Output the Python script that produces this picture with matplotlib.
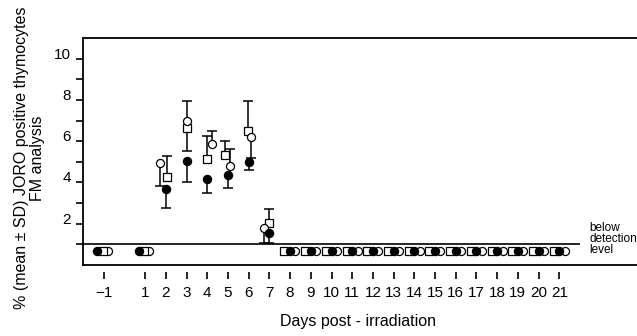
import numpy as np
import matplotlib
matplotlib.use('Agg')
import matplotlib.pyplot as plt

plt.rcParams['font.family'] = ['Liberation Sans', 'DejaVu Sans']

# days with detectable values (mean, and ends of the SD bars)
days = [2, 3, 4, 5, 6, 7]
closed_mean = [3.66, 5.06, 4.16, 4.34, 5.01, 1.55]
closed_low = [2.78, 4.01, 3.49, 3.74, 4.61, 1.05]
closed_high = [3.66, 5.06, 4.16, 4.34, 5.01, 1.55]
circle_mean = [4.95, 6.99, 5.86, 4.82, 6.18, 1.80]
circle_low = [3.85, 6.99, 5.86, 4.82, 5.19, 1.05]
circle_high = [4.95, 7.95, 6.47, 5.62, 6.18, 1.80]
square_mean = [4.26, 6.63, 5.16, 5.35, 6.47, 2.04]
square_low = [4.26, 5.51, 5.16, 5.35, 6.47, 2.04]
square_high = [5.27, 6.63, 6.27, 6.02, 7.95, 2.73]

# small horizontal shifts so the symbols do not overlap
closed_shift = [0, 0, 0, 0, 0, 0]
circle_shift = [-0.29, 0.0, 0.22, 0.12, 0.10, -0.24]
square_shift = [0.05, 0.0, -0.02, -0.13, -0.05, 0.0]

# days below detection level
days_early = [-1, 1]
days_late = list(range(8, 22))
below_value = 0.67
detection_level = 1.0

xtick_pos = [-1] + list(range(1, 22))
xtick_labels = ['\u22121'] + [str(d) for d in range(1, 22)]

fig = plt.figure(figsize=(6.37, 3.36), dpi=100)
ax = fig.add_axes([83 / 637, 71 / 336, 497 / 637, 227 / 336])
ax.set_xlim(-2, 22)
ax.set_ylim(0, 11)


def draw_bars(x, mean, low, high):
    x, mean, low, high = map(np.asarray, (x, mean, low, high))
    ax.vlines(x, low, high, color='black', lw=1.1, zorder=2)
    m = low < mean
    ax.plot(x[m], low[m], ls='none', marker='_', ms=7, mew=1.1, color='black', zorder=2)
    m = high > mean
    ax.plot(x[m], high[m], ls='none', marker='_', ms=7, mew=1.1, color='black', zorder=2)


d = np.array(days)
draw_bars(d + closed_shift, closed_mean, closed_low, closed_high)
draw_bars(d + circle_shift, circle_mean, circle_low, circle_high)
draw_bars(d + square_shift, square_mean, square_low, square_high)

closed_style = dict(ls='none', marker='o', ms=5.8, mfc='black', mec='black', zorder=3)
circle_style = dict(ls='none', marker='o', ms=5.8, mfc='white', mec='black', mew=0.9, zorder=3)
square_style = dict(ls='none', marker='s', ms=5.2, mfc='white', mec='black', mew=0.9, zorder=3)

ax.plot(d + square_shift, square_mean, **square_style)
ax.plot(d + circle_shift, circle_mean, **circle_style)
ax.plot(d + closed_shift, closed_mean, **closed_style)

# below detection level
e = np.array(days_early)
ax.plot(e + 0.2, [below_value] * len(e), **circle_style)
ax.plot(e - 0.05, [below_value] * len(e), **square_style)
ax.plot(e - 0.3, [below_value] * len(e), **closed_style)
la = np.array(days_late)
ax.plot(la + 0.26, [below_value] * len(la), **circle_style)
ax.plot(la - 0.27, [below_value] * len(la), **square_style)
ax.plot(la, [below_value] * len(la), **closed_style)

ax.axhline(detection_level, color='black', lw=1.2, zorder=1)

# frame
for s in ['top', 'right']:
    ax.spines[s].set_visible(False)
ax.spines['left'].set_linewidth(1.3)
ax.spines['bottom'].set_position(('outward', 5))
ax.spines['bottom'].set_color('none')
ext = 554 / 497
ax.plot([0, ext], [1, 1], transform=ax.transAxes, clip_on=False, color='black', lw=1.3)
ax.plot([0, ext], [0, 0], transform=ax.transAxes, clip_on=False, color='black', lw=1.3)

ax.set_xticks(xtick_pos)
ax.set_xticklabels(xtick_labels)
ax.set_yticks([2, 4, 6, 8, 10])
ax.set_yticks([1, 3, 5, 7, 9], minor=True)
ax.tick_params(which='both', direction='out', length=5, width=1.2, color='black')
ax.tick_params(axis='x', labelsize=11, pad=5)
ax.tick_params(axis='y', labelsize=11, pad=3.5)
for tl in ax.get_yticklabels():
    tl.set_verticalalignment('baseline')

fig.text(29.5 / 637, 1 - 158 / 336,
         '% (mean \u00b1 SD) JORO positive thymocytes\nFM analysis',
         rotation=90, ha='center', va='center', multialignment='center',
         fontsize=11.5, linespacing=1.15)
fig.text(358 / 637, 10 / 336, 'Days post - irradiation',
         ha='center', va='baseline', fontsize=11.5)
fig.text(589 / 637, 1 - 239 / 336, 'below\ndetection\nlevel',
         ha='left', va='center', fontsize=8.5, linespacing=0.9)

fig.savefig('out.png', dpi=100)
